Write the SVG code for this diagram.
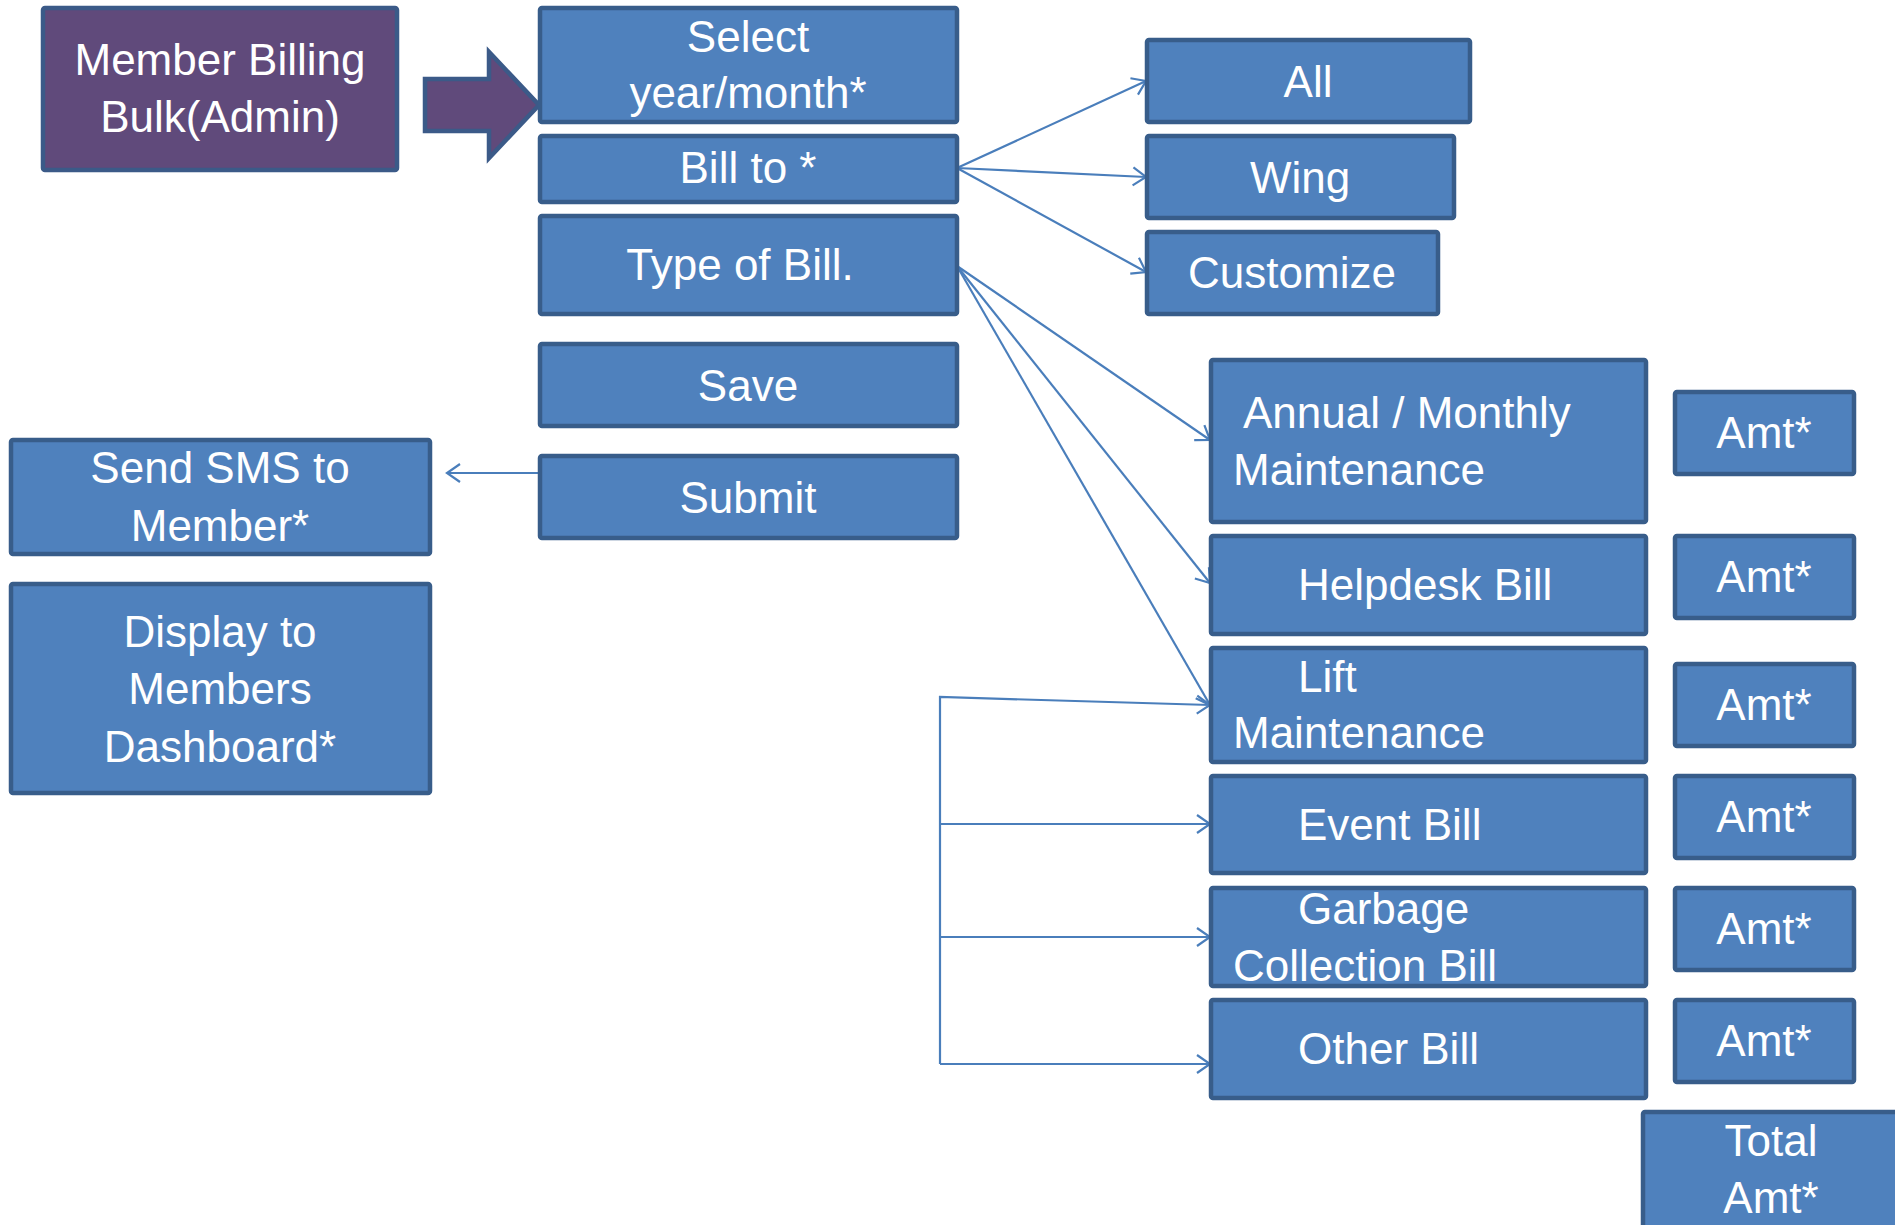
<svg xmlns="http://www.w3.org/2000/svg" width="1895" height="1225" viewBox="0 0 1895 1225">
<style>
.b{fill:#4F81BD;stroke:#385D8A;stroke-width:4.5}
.p{fill:#604A7B;stroke:#3B5A88;stroke-width:4.5}
text{font-family:"Liberation Sans",Arial,sans-serif;font-size:44px;fill:#FFFFFF}
.c{text-anchor:middle}
.ln{fill:none;stroke:#4A7EBB;stroke-width:2.2}
</style>
<defs>
<marker id="ah" viewBox="-16 -11 18 22" markerWidth="18" markerHeight="22" refX="0" refY="0" orient="auto" markerUnits="userSpaceOnUse">
<path d="M-13,-9 L0,0 L-13,9" fill="none" stroke="#4A7EBB" stroke-width="2.2"/>
</marker>
</defs>
<rect width="1895" height="1225" fill="#FFFFFF"/>

<g id="connectors">
<polygon points="425,79 489,79 489,52 539,105 489,158 489,131 425,131" class="p"/>
<line class="ln" x1="957" y1="168" x2="1146" y2="81" marker-end="url(#ah)"/>
<line class="ln" x1="957" y1="168" x2="1146" y2="177" marker-end="url(#ah)"/>
<line class="ln" x1="957" y1="168" x2="1146" y2="272" marker-end="url(#ah)"/>
<line class="ln" x1="957" y1="266" x2="1210" y2="440" marker-end="url(#ah)"/>
<line class="ln" x1="957" y1="266" x2="1210" y2="583" marker-end="url(#ah)"/>
<line class="ln" x1="957" y1="266" x2="1210" y2="705" marker-end="url(#ah)"/>
<polyline class="ln" points="940,1064 940,697 1210,705" marker-end="url(#ah)"/>
<line class="ln" x1="940" y1="824" x2="1210" y2="824" marker-end="url(#ah)"/>
<line class="ln" x1="940" y1="937" x2="1210" y2="937" marker-end="url(#ah)"/>
<line class="ln" x1="940" y1="1064" x2="1210" y2="1064" marker-end="url(#ah)"/>
<line class="ln" x1="555" y1="473" x2="447" y2="473" marker-end="url(#ah)"/>
</g>

<g id="member-billing">
<rect class="p" x="43" y="8" width="354" height="162" rx="2"/>
<text class="c" x="220" y="75">Member Billing</text>
<text class="c" x="220" y="132">Bulk(Admin)</text>
</g>

<g id="select-year">
<rect class="b" x="540" y="8" width="417" height="114" rx="2"/>
<text class="c" x="748" y="52">Select</text>
<text class="c" x="748" y="108">year/month*</text>
</g>

<g id="bill-to">
<rect class="b" x="540" y="136" width="417" height="66" rx="2"/>
<text class="c" x="748" y="183">Bill to *</text>
</g>

<g id="type-of-bill">
<rect class="b" x="540" y="216" width="417" height="98" rx="2"/>
<text class="c" x="740" y="280">Type of Bill.</text>
</g>

<g id="save">
<rect class="b" x="540" y="344" width="417" height="82" rx="2"/>
<text class="c" x="748" y="401">Save</text>
</g>

<g id="submit">
<rect class="b" x="540" y="456" width="417" height="82" rx="2"/>
<text class="c" x="748" y="513">Submit</text>
</g>

<g id="send-sms">
<rect class="b" x="11" y="440" width="419" height="114" rx="2"/>
<text class="c" x="220" y="483">Send SMS to</text>
<text class="c" x="220" y="541">Member*</text>
</g>

<g id="display-dashboard">
<rect class="b" x="11" y="584" width="419" height="209" rx="2"/>
<text class="c" x="220" y="647">Display to</text>
<text class="c" x="220" y="704">Members</text>
<text class="c" x="220" y="762">Dashboard*</text>
</g>

<g id="all">
<rect class="b" x="1147" y="40" width="323" height="82" rx="2"/>
<text class="c" x="1308" y="97">All</text>
</g>

<g id="wing">
<rect class="b" x="1147" y="136" width="307" height="82" rx="2"/>
<text class="c" x="1300" y="193">Wing</text>
</g>

<g id="customize">
<rect class="b" x="1147" y="232" width="291" height="82" rx="2"/>
<text class="c" x="1292" y="288">Customize</text>
</g>

<g id="annual-monthly">
<rect class="b" x="1211" y="360" width="435" height="162" rx="2"/>
<text x="1243" y="428">Annual / Monthly</text>
<text x="1233" y="485">Maintenance</text>
</g>

<g id="helpdesk-bill">
<rect class="b" x="1211" y="536" width="435" height="98" rx="2"/>
<text x="1298" y="600">Helpdesk Bill</text>
</g>

<g id="lift-maintenance">
<rect class="b" x="1211" y="648" width="435" height="114" rx="2"/>
<text x="1298" y="692">Lift</text>
<text x="1233" y="748">Maintenance</text>
</g>

<g id="event-bill">
<rect class="b" x="1211" y="776" width="435" height="97" rx="2"/>
<text x="1298" y="840">Event Bill</text>
</g>

<g id="garbage-bill">
<rect class="b" x="1211" y="888" width="435" height="98" rx="2"/>
<text x="1298" y="924">Garbage</text>
<text x="1233" y="981">Collection Bill</text>
</g>

<g id="other-bill">
<rect class="b" x="1211" y="1000" width="435" height="98" rx="2"/>
<text x="1298" y="1064">Other Bill</text>
</g>

<g id="amt-1">
<rect class="b" x="1675" y="392" width="179" height="82" rx="2"/>
<text class="c" x="1764" y="448">Amt*</text>
</g>
<g id="amt-2">
<rect class="b" x="1675" y="536" width="179" height="82" rx="2"/>
<text class="c" x="1764" y="592">Amt*</text>
</g>
<g id="amt-3">
<rect class="b" x="1675" y="664" width="179" height="82" rx="2"/>
<text class="c" x="1764" y="720">Amt*</text>
</g>
<g id="amt-4">
<rect class="b" x="1675" y="776" width="179" height="82" rx="2"/>
<text class="c" x="1764" y="832">Amt*</text>
</g>
<g id="amt-5">
<rect class="b" x="1675" y="888" width="179" height="82" rx="2"/>
<text class="c" x="1764" y="944">Amt*</text>
</g>
<g id="amt-6">
<rect class="b" x="1675" y="1000" width="179" height="82" rx="2"/>
<text class="c" x="1764" y="1056">Amt*</text>
</g>

<g id="total-amt">
<rect class="b" x="1643" y="1112" width="262" height="130" rx="2"/>
<text class="c" x="1771" y="1156">Total</text>
<text class="c" x="1771" y="1213">Amt*</text>
</g>
</svg>
